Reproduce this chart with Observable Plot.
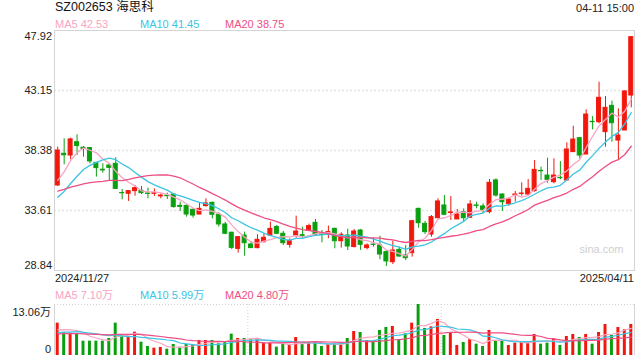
<!DOCTYPE html>
<html><head><meta charset="utf-8">
<script src="https://cdn.jsdelivr.net/npm/d3@7"></script>
<script src="https://cdn.jsdelivr.net/npm/@observablehq/plot@0.6"></script>
<style>
body{margin:0;background:#fff;}
#wrap{position:relative;width:640px;height:360px;overflow:hidden;font-family:"Liberation Sans",Arial,"Noto Sans CJK SC",sans-serif;}
#wrap > svg, #wrap > figure{position:absolute;left:0;margin:0;}
</style></head><body><div id="wrap"></div>
<script>
const title = "SZ002653 海思科";
const timeLabel = "04-11 15:00";
const dateLabels = ["2024/11/27", "2025/04/11"];
const priceMaLabels = ["MA5 42.53", "MA10 41.45", "MA20 38.75"];
const volMaLabels = ["MA5 7.10万", "MA10 5.99万", "MA20 4.80万"];
const yTicks = [47.92, 43.15, 38.38, 33.61, 28.84];
const volMax = 13.06;
const volTickLabels = ["13.06万", "0"];

const open = [35.60,38.12,37.98,39.04,38.60,38.57,37.40,36.85,37.19,37.32,35.00,34.94,35.15,35.18,34.96,34.94,34.73,34.78,34.88,33.98,
33.97,33.66,33.29,33.96,34.22,33.27,32.50,31.84,30.56,31.62,30.91,30.62,31.09,31.62,32.29,31.76,30.88,31.62,31.65,31.99,
32.63,31.70,31.68,32.15,31.17,31.62,30.70,32.02,30.62,30.90,30.83,30.30,29.50,30.48,30.03,30.22,33.74,32.55,31.70,33.00,
34.01,33.41,32.90,33.48,33.03,34.01,33.93,33.48,36.00,34.88,34.14,34.85,34.93,34.88,35.15,36.76,36.39,35.86,36.20,36.00,
38.25,39.36,38.06,40.66,40.63,39.84,41.93,39.17,39.97,42.75];
const high = [38.65,39.31,39.36,39.63,38.70,38.60,37.42,37.32,37.32,37.80,35.28,35.20,35.60,35.52,35.39,35.33,34.93,34.99,34.94,34.27,
34.06,33.74,34.22,34.54,34.27,33.42,32.68,31.89,31.54,31.89,31.15,31.68,31.76,32.68,32.42,31.94,31.36,33.16,32.29,32.53,
32.90,32.02,32.37,32.21,31.84,32.13,32.10,32.10,30.96,31.44,31.57,30.43,31.17,30.70,30.83,32.82,33.80,32.74,33.21,34.54,
34.80,34.72,33.69,33.74,34.40,34.27,34.14,36.07,36.13,34.94,34.59,35.12,35.81,36.07,37.59,37.06,37.77,37.72,37.50,38.99,
40.31,39.39,41.61,41.08,43.81,42.67,42.30,41.69,43.15,47.44];
const low = [35.52,37.24,37.64,37.98,37.85,37.32,36.26,36.58,35.92,35.30,34.46,34.33,34.75,34.88,34.54,34.73,34.54,34.49,33.80,33.53,
33.08,33.00,33.27,33.88,32.95,32.29,31.68,30.51,30.22,29.98,30.60,30.56,31.04,31.62,31.68,30.83,30.62,31.41,31.41,31.94,
31.68,31.04,31.36,30.57,30.62,30.43,30.64,30.43,30.48,30.70,29.69,29.16,29.32,29.90,29.63,29.90,32.20,31.70,31.49,32.95,
33.21,32.82,32.90,32.68,33.03,33.74,33.35,33.35,34.67,33.53,33.95,34.27,34.75,34.80,35.07,36.00,35.78,35.73,36.05,35.94,
38.25,37.72,38.06,40.02,40.50,38.65,39.04,37.64,39.97,41.77];
const close = [38.38,38.00,39.26,38.73,38.50,37.51,36.98,36.80,37.00,35.33,34.98,35.15,35.39,34.99,34.93,34.98,34.80,34.75,33.88,33.90,
33.29,33.21,33.74,34.17,33.27,32.50,31.76,30.64,31.49,31.01,30.62,31.28,31.44,32.15,31.76,31.01,31.17,31.94,31.60,32.37,
31.68,31.67,31.89,31.17,31.68,30.75,31.94,30.88,30.83,30.88,30.11,29.56,30.43,29.95,29.82,32.76,32.60,31.89,33.08,34.33,
33.27,33.46,33.29,33.00,34.09,33.98,33.66,35.81,34.80,34.27,34.48,34.88,34.96,35.33,36.84,36.73,36.05,36.39,36.18,38.46,
39.25,37.98,41.24,40.63,42.57,41.77,40.55,39.57,43.07,47.39];
const volume = [8.28,5.89,5.72,5.64,3.67,3.67,3.67,3.67,4.36,8.28,5.04,4.70,5.98,3.42,2.31,1.88,2.05,1.62,2.82,2.14,
2.82,2.73,3.84,3.84,3.84,2.99,3.33,5.47,4.36,4.36,4.01,4.01,3.16,3.16,2.14,2.82,2.56,4.61,2.99,3.16,
3.33,2.31,2.82,2.90,2.99,4.36,6.15,5.89,3.84,3.67,6.41,7.17,7.43,4.10,5.55,8.28,13.06,6.92,7.34,9.22,
5.12,5.72,2.56,3.33,4.10,2.90,2.31,6.41,3.84,3.84,2.56,3.16,3.42,3.16,5.38,2.90,3.16,4.27,2.56,4.87,
5.38,4.61,5.38,2.90,5.89,7.94,5.12,7.17,6.58,7.94];
// estimated closes / volumes of the 19 sessions before the window (only used to start the moving averages)
const priorClose = [35.2,35.8,36.1,35.9,35.5,35.7,36.0,35.6,35.3,35.2,33.4,33.0,32.9,33.2,34.18,34.6,34.8,35.6,36.62];
const priorVol = [5.0,5.4,5.2,5.6,4.9,5.3,5.1,5.4,5.0,5.2,5.0,5.4,4.8,5.5,5.3,5.6,6.2,6.5,6.32];

const UP = "#f2170c", DOWN = "#0a9f0e";
const C5 = "#f8a4c2", C10 = "#3cc4e4", C20 = "#ee4e85";
const FONT = '"Liberation Sans", Arial, "Noto Sans CJK SC", sans-serif';

function movingAvg(series, prior, n) {
  const all = prior.concat(series);
  return series.map((_, i) => {
    const end = prior.length + i;
    let s = 0;
    for (let k = end - n + 1; k <= end; k++) s += all[k];
    return s / n;
  });
}

const candles = close.map((c, i) => ({i, o: open[i], h: high[i], l: low[i], c, v: volume[i], col: c >= open[i] ? UP : DOWN}));
const maRows = (vals, prior) => [
  {n: 5, color: C5}, {n: 10, color: C10}, {n: 20, color: C20}
].flatMap(({n, color}) => movingAvg(vals, prior, n).map((m, i) => ({i, m, n, color})));
const priceMA = maRows(close, priorClose);
const volMA = maRows(volume, priorVol);

const xDomain = [-0.5, close.length - 0.5];
const BW = 0.31, VW = 0.23;

const main = Plot.plot({
  width: 640, height: 300,
  marginLeft: 54, marginRight: 6, marginTop: 30, marginBottom: 30,
  style: {fontFamily: FONT, fontSize: "11px", background: "transparent", overflow: "visible"},
  x: {domain: xDomain, axis: null},
  y: {domain: [yTicks[4], yTicks[0]], axis: null},
  color: {type: "identity"},
  marks: [
    Plot.ruleY(yTicks.slice(1, -1), {stroke: "#e4e4e4", strokeWidth: 1.5, strokeDasharray: "2,2"}),
    Plot.frame({stroke: "#d4d4d4"}),
    Plot.ruleX(candles, {x: "i", y1: "l", y2: "h", stroke: "col", strokeWidth: 1}),
    Plot.rect(candles, {x1: d => d.i - BW, x2: d => d.i + BW, y1: "o", y2: "c", fill: "col", stroke: "col", strokeWidth: 1}),
    Plot.line(priceMA, {x: "i", y: "m", z: "n", stroke: "color", strokeWidth: 1.3}),
    Plot.text(yTicks.slice(1, -1), {y: d => d, text: d => d.toFixed(2), frameAnchor: "left", textAnchor: "end", dx: -2.5, dy: 0, fill: "#222", fontSize: 11}),
    Plot.text([yTicks[0]], {y: d => d, text: d => d.toFixed(2), frameAnchor: "left", textAnchor: "end", dx: -2.5, dy: 5.8, fill: "#222", fontSize: 11}),
    Plot.text([yTicks[4]], {y: d => d, text: d => d.toFixed(2), frameAnchor: "left", textAnchor: "end", dx: -2.5, dy: -5.2, fill: "#222", fontSize: 11}),
    Plot.text(["sina.com"], {frameAnchor: "bottom-right", dx: -11, dy: -18, text: d => d, fill: "#cfcfcf", fontSize: 11, textAnchor: "end"})
  ]
});
main.style.top = "0px";

const vol = Plot.plot({
  width: 640, height: 60,
  marginLeft: 54, marginRight: 6, marginTop: 4, marginBottom: 5,
  style: {fontFamily: FONT, fontSize: "11px", background: "transparent", overflow: "visible"},
  x: {domain: xDomain, axis: null},
  y: {domain: [0, volMax], axis: null},
  color: {type: "identity"},
  marks: [
    Plot.ruleY([volMax], {stroke: "#d0d0d0", strokeDasharray: "1,2"}),
    Plot.ruleX([xDomain[0] + (xDomain[1] - xDomain[0]) / 3, xDomain[0] + 2 * (xDomain[1] - xDomain[0]) / 3], {stroke: "#cfcfcf", strokeDasharray: "1,2"}),
    Plot.ruleX([xDomain[0], xDomain[1]], {stroke: "#d4d4d4"}),
    Plot.rect(candles, {x1: d => d.i - VW, x2: d => d.i + VW, y1: 0, y2: "v", fill: "col"}),
    Plot.line(volMA, {x: "i", y: "m", z: "n", stroke: "color", strokeWidth: 1.2}),
    Plot.text([volTickLabels[0]], {y: volMax, text: d => d, frameAnchor: "left", textAnchor: "end", dx: -3.5, dy: 7.5, fill: "#222", fontSize: 11}),
    Plot.text([volTickLabels[1]], {y: 0, text: d => d, frameAnchor: "left", textAnchor: "end", dx: -3.5, dy: -6.5, fill: "#222", fontSize: 11})
  ]
});
vol.style.top = "300px";

const wrap = document.getElementById("wrap");
wrap.appendChild(main);
wrap.appendChild(vol);

// overlay text
const svg = d3.select(wrap).append("svg").attr("width", 640).attr("height", 360)
  .style("position", "absolute").style("top", "0px").style("left", "0px")
  .style("font-family", FONT).style("pointer-events", "none");
const txt = (x, y, s, color, anchor, size) => svg.append("text").attr("x", x).attr("y", y)
  .attr("fill", color).attr("text-anchor", anchor || "start").attr("font-size", size || 11).text(s);
txt(55, 10.5, title, "#111", "start", 12.5);
txt(634, 12, timeLabel, "#222", "end", 11);
[C5, C10, C20].forEach((c, k) => txt([55, 140, 225][k], 27.5, priceMaLabels[k], c, "start", 11));
txt(55, 282, dateLabels[0], "#222", "start", 11);
txt(634, 282, dateLabels[1], "#222", "end", 11);
[C5, C10, C20].forEach((c, k) => txt([55, 140, 225][k], 298.5, volMaLabels[k], c, "start", 11));
</script></body></html>
